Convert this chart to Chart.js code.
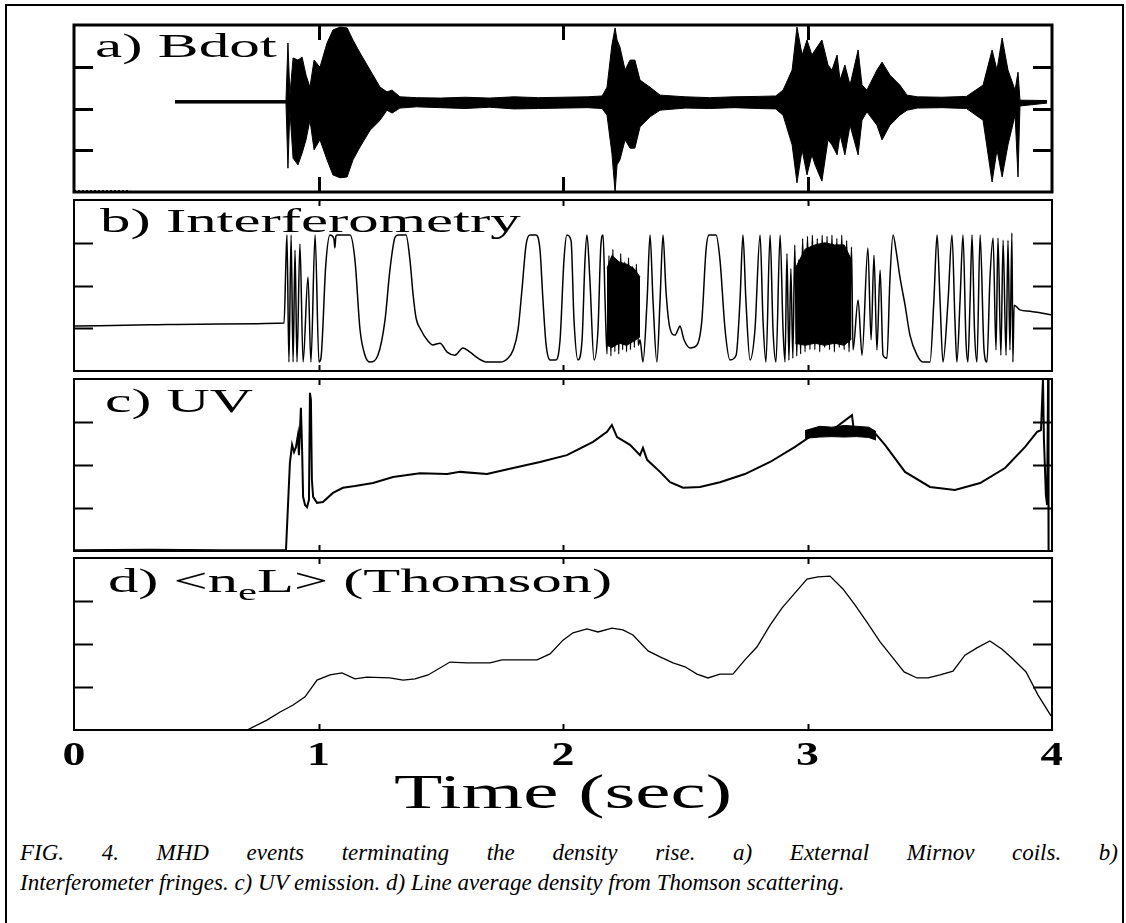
<!DOCTYPE html>
<html>
<head>
<meta charset="utf-8">
<script src="https://cdn.jsdelivr.net/npm/chart.js@4.4.0/dist/chart.umd.min.js"></script>
<style>
body { margin: 0; background: #fff; }
#fig { position: relative; width: 1126px; height: 923px; overflow: hidden; font-family: "Liberation Serif", "Times New Roman", serif; }
#outer { position: absolute; left: 5px; top: 4px; width: 1115px; height: 960px; border: 2px solid #000; }
canvas { position: absolute; }
.ttl { position: absolute; font-size: 34px; line-height: 1; white-space: nowrap; transform-origin: 0 0; color: #000; }
.cap { position: absolute; left: 20px; width: 1098px; font-style: italic; font-size: 23px; line-height: 30px; white-space: nowrap; }
#cap1 { top: 838px; text-align: justify; text-align-last: justify; white-space: normal; }
#cap2 { top: 868px; }
</style>
</head>
<body>
<div id="fig">
  <div id="outer"></div>
  <canvas id="pa" width="998" height="187" style="left:64px;top:15px"></canvas>
  <canvas id="pb" width="998" height="191" style="left:64px;top:190px"></canvas>
  <canvas id="pc" width="998" height="192" style="left:64px;top:369px"></canvas>
  <canvas id="pd" width="998" height="282" style="left:64px;top:548px"></canvas>
  <div class="ttl" style="left:95px;top:29px;transform:scaleX(1.8)">a) Bdot</div>
  <div class="ttl" style="left:100px;top:204px;transform:scaleX(1.79)">b) Interferometry</div>
  <div class="ttl" style="left:105px;top:384px;transform:scaleX(1.76)">c) UV</div>
  <div class="ttl" style="left:108px;top:564px;transform:scaleX(1.78)">d) &lt;n<span style="font-size:24px;position:relative;top:8px">e</span>L&gt; (Thomson)</div>
  <div class="cap" id="cap1">FIG. 4. MHD events terminating the density rise. a) External Mirnov coils. b)</div>
  <div class="cap" id="cap2">Interferometer fringes. c) UV emission. d) Line average density from Thomson scattering.</div>
</div>

<script>
// time axis (sec) and frame ticks
xTicks = [1, 2, 3];
xTickLabels = ['0', '1', '2', '3', '4'];
yTicks = [1, 2, 3];

// a) Bdot - envelope of the Mirnov signal (upper / lower)
bdotT = [0.413, 0.867, 0.875, 0.883, 0.896, 0.916, 0.933, 0.949, 0.965, 0.982,
         1.006, 1.035, 1.059, 1.088, 1.117, 1.141, 1.170, 1.211, 1.252, 1.280,
         1.301, 1.333, 1.40, 1.50, 1.60, 1.70, 1.80, 1.90, 2.00, 2.10,
         2.16, 2.180, 2.200, 2.213, 2.221, 2.233, 2.254, 2.274, 2.294, 2.315,
         2.356, 2.397, 2.50, 2.60, 2.70, 2.80, 2.87, 2.900, 2.937, 2.957,
         2.978, 2.998, 3.018, 3.031, 3.059, 3.084, 3.100, 3.121, 3.133, 3.153,
         3.174, 3.207, 3.223, 3.243, 3.284, 3.305, 3.337, 3.378, 3.407, 3.45,
         3.55, 3.65, 3.718, 3.755, 3.775, 3.796, 3.820, 3.849, 3.861, 3.869,
         3.980];
bdotHi = [2.19, 2.19, 3.57, 2.32, 3.21, 3.16, 3.23, 2.80, 2.51, 3.16,
          2.99, 3.57, 3.88, 3.95, 3.93, 3.64, 3.33, 2.92, 2.51, 2.40,
          2.44, 2.28, 2.26, 2.25, 2.27, 2.25, 2.28, 2.26, 2.27, 2.28,
          2.30, 2.51, 3.52, 3.93, 3.64, 3.47, 2.92, 3.16, 3.16, 2.68,
          2.51, 2.32, 2.28, 2.26, 2.28, 2.29, 2.30, 2.44, 2.92, 3.95,
          3.28, 3.64, 3.28, 3.40, 3.64, 3.04, 2.92, 3.28, 2.68, 3.04,
          2.56, 3.40, 2.56, 2.44, 2.92, 3.11, 2.80, 2.56, 2.32, 2.28,
          2.27, 2.29, 2.56, 3.40, 2.92, 3.69, 2.92, 2.44, 2.87, 2.20,
          2.19];
bdotLo = [2.13, 2.13, 0.57, 1.96, 0.81, 0.65, 0.93, 1.25, 1.72, 1.01,
          1.25, 0.77, 0.41, 0.34, 0.36, 0.77, 1.08, 1.48, 1.72, 1.96,
          1.89, 2.01, 2.04, 2.02, 2.00, 2.03, 1.99, 2.00, 2.01, 2.02,
          2.00, 1.84, 0.93, 0.00, 0.65, 0.77, 1.25, 1.05, 1.05, 1.56,
          1.80, 1.96, 2.01, 2.00, 2.02, 2.00, 1.99, 1.84, 1.13, 0.22,
          1.01, 0.41, 0.89, 0.65, 0.26, 1.25, 1.13, 0.89, 1.37, 0.89,
          1.60, 0.89, 1.72, 1.92, 1.60, 1.25, 1.60, 1.84, 1.96, 2.01,
          2.02, 2.00, 1.72, 0.24, 1.01, 0.36, 1.13, 1.84, 0.36, 2.06,
          2.13];
bdotPreT = [0.0, 0.23];
bdotPreV = [0.03, 0.03];

// b) Interferometer fringes
ifT = [0, 0.311, 0.597, 0.859, 0.867, 0.871, 0.879, 0.888, 0.896, 0.904,
       0.912, 0.924, 0.937, 0.957, 0.969, 0.986, 1.002, 1.010, 1.030, 1.047,
       1.063, 1.067, 1.071, 1.076, 1.129, 1.149, 1.170, 1.190, 1.211, 1.243,
       1.272, 1.292, 1.313, 1.325, 1.358, 1.374, 1.387, 1.399, 1.419, 1.444,
       1.468, 1.497, 1.526, 1.558, 1.591, 1.620, 1.652, 1.689, 1.742, 1.775,
       1.796, 1.816, 1.832, 1.849, 1.865, 1.890, 1.906, 1.918, 1.931, 1.947,
       1.971, 1.988, 2.004, 2.016, 2.033, 2.045, 2.061, 2.078, 2.090, 2.098,
       2.110, 2.127, 2.143, 2.155, 2.164, 2.172, 2.180, 2.188, 2.196, 2.204,
       2.212, 2.220, 2.228, 2.236, 2.244, 2.252, 2.260, 2.268, 2.276, 2.284,
       2.292, 2.300, 2.308, 2.315, 2.327, 2.344, 2.356, 2.368, 2.384, 2.397,
       2.409, 2.421, 2.437, 2.458, 2.470, 2.478, 2.495, 2.519, 2.548, 2.568,
       2.585, 2.597, 2.626, 2.642, 2.663, 2.683, 2.708, 2.724, 2.736, 2.748,
       2.765, 2.785, 2.806, 2.818, 2.830, 2.847, 2.859, 2.871, 2.888, 2.900,
       2.908, 2.916, 2.924, 2.932, 2.940, 2.948, 2.956, 2.964, 2.972, 2.980,
       2.990, 3.000, 3.010, 3.020, 3.030, 3.040, 3.050, 3.060, 3.070, 3.080,
       3.090, 3.100, 3.110, 3.120, 3.130, 3.140, 3.150, 3.160, 3.170, 3.180,
       3.186, 3.207, 3.223, 3.247, 3.260, 3.272, 3.284, 3.297, 3.309, 3.325,
       3.337, 3.350, 3.362, 3.378, 3.399, 3.419, 3.448, 3.472, 3.501, 3.517,
       3.530, 3.542, 3.554, 3.575, 3.591, 3.603, 3.611, 3.624, 3.636, 3.648,
       3.656, 3.665, 3.673, 3.683, 3.693, 3.706, 3.722, 3.734, 3.746, 3.759,
       3.771, 3.779, 3.791, 3.800, 3.812, 3.820, 3.828, 3.836, 3.840, 3.845,
       3.869, 3.910, 3.951, 4.000];
ifV = [1.05, 1.08, 1.10, 1.12, 2.60, 3.18, 0.21, 3.18, 0.21, 2.83,
       0.21, 2.97, 0.21, 2.20, 0.21, 3.18, 0.21, 0.30, 2.50, 3.18,
       3.10, 2.88, 3.15, 3.18, 3.18, 2.60, 0.96, 0.37, 0.21, 0.37,
       1.19, 2.36, 3.13, 3.18, 3.18, 2.60, 1.78, 1.24, 0.96, 0.73,
       0.61, 0.65, 0.44, 0.37, 0.54, 0.44, 0.30, 0.21, 0.21, 0.30,
       0.49, 0.96, 1.89, 2.95, 3.18, 3.18, 2.83, 1.66, 0.61, 0.26,
       0.26, 0.73, 2.60, 3.18, 3.05, 1.19, 0.26, 0.73, 2.60, 3.18,
       2.13, 0.26, 0.96, 2.95, 3.18, 1.66, 0.40, 2.70, 0.35, 2.85,
       0.45, 2.60, 0.40, 2.75, 0.50, 2.55, 0.45, 2.65, 0.50, 2.45,
       0.55, 2.50, 0.60, 0.73, 0.21, 1.66, 3.18, 1.66, 0.21, 1.66,
       3.18, 1.89, 1.01, 0.84, 0.96, 1.05, 0.73, 0.54, 0.61, 1.19,
       2.83, 3.18, 3.18, 2.60, 0.96, 0.26, 0.37, 1.66, 3.18, 1.66,
       0.26, 0.96, 3.18, 1.19, 0.21, 3.18, 0.96, 0.21, 3.18, 0.96,
       0.21, 2.75, 0.25, 2.40, 0.30, 2.95, 0.35, 2.60, 0.40, 3.10,
       0.45, 3.15, 0.50, 3.18, 0.50, 3.10, 0.45, 3.18, 0.55, 3.15,
       0.50, 3.18, 0.45, 3.10, 0.55, 3.18, 0.50, 3.05, 0.45, 2.90,
       0.49, 1.66, 0.37, 2.88, 0.73, 2.71, 0.49, 2.36, 0.37, 0.30,
       2.13, 3.18, 2.83, 2.20, 1.54, 0.84, 0.37, 0.21, 0.21, 1.66,
       3.18, 1.66, 0.21, 1.66, 3.18, 1.19, 0.21, 1.66, 3.18, 0.73,
       0.21, 1.66, 3.18, 0.96, 0.21, 3.18, 0.49, 0.21, 2.13, 3.11,
       0.49, 3.11, 0.37, 3.06, 0.37, 3.06, 0.49, 3.23, 0.21, 1.54,
       1.43, 1.40, 1.36, 1.31];
// dense fringe bursts, drawn as solid bands
ifBand1T = [2.180, 2.200, 2.230, 2.260, 2.290, 2.315];
ifBand1Hi = [2.40, 2.70, 2.55, 2.50, 2.40, 2.20];
ifBand1Lo = [0.60, 0.55, 0.65, 0.60, 0.70, 0.80];
ifBand2T = [2.950, 2.990, 3.030, 3.070, 3.110, 3.150, 3.180];
ifBand2Hi = [2.40, 2.85, 2.95, 3.00, 2.95, 2.95, 2.60];
ifBand2Lo = [0.65, 0.60, 0.65, 0.60, 0.65, 0.60, 0.75];

// c) UV emission
uvT = [0, 0.311, 0.600, 0.867, 0.883, 0.892, 0.900, 0.908, 0.916, 0.920,
       0.928, 0.933, 0.937, 0.945, 0.953, 0.961, 0.965, 0.969, 0.973, 0.978,
       0.994, 1.018, 1.059, 1.100, 1.149, 1.223, 1.305, 1.415, 1.526, 1.579,
       1.689, 1.796, 1.906, 2.016, 2.123, 2.180, 2.200, 2.221, 2.274, 2.315,
       2.327, 2.344, 2.397, 2.438, 2.491, 2.560, 2.642, 2.744, 2.847, 2.949,
       3.031, 3.092, 3.182, 3.190, 3.276, 3.317, 3.399, 3.501, 3.603, 3.706,
       3.808, 3.890, 3.939, 3.955, 3.963, 3.967, 3.975, 3.980, 3.984, 3.986];
uvV = [0.02, 0.03, 0.02, 0.02, 2.05, 2.47, 2.30, 2.42, 2.70, 2.23,
       3.33, 2.35, 1.26, 1.07, 1.02, 1.19, 3.68, 3.51, 1.65, 1.26,
       1.12, 1.14, 1.35, 1.47, 1.51, 1.58, 1.72, 1.81, 1.79, 1.84,
       1.79, 1.93, 2.07, 2.23, 2.54, 2.77, 2.93, 2.65, 2.47, 2.23,
       2.40, 2.12, 1.84, 1.60, 1.47, 1.49, 1.60, 1.79, 2.07, 2.42,
       2.74, 2.77, 3.16, 2.77, 2.74, 2.47, 1.84, 1.49, 1.42, 1.58,
       1.93, 2.42, 2.77, 2.81, 4.00, 2.60, 1.30, 1.07, 4.00, 0.00];
uvBandT = [2.990, 3.050, 3.100, 3.150, 3.200, 3.250, 3.280];
uvBandHi = [2.80, 2.90, 2.88, 2.92, 2.90, 2.88, 2.78];
uvBandLo = [2.62, 2.65, 2.66, 2.65, 2.66, 2.64, 2.58];

// d) line average density (Thomson)
thT = [0.650, 0.708, 0.789, 0.843, 0.896, 0.945, 0.994, 1.047, 1.096, 1.149,
       1.198, 1.292, 1.346, 1.395, 1.448, 1.538, 1.607, 1.701, 1.751, 1.894,
       1.947, 2.000, 2.041, 2.098, 2.143, 2.200, 2.245, 2.286, 2.348, 2.397,
       2.450, 2.499, 2.548, 2.593, 2.642, 2.695, 2.744, 2.793, 2.847, 2.896,
       2.949, 2.998, 3.043, 3.092, 3.145, 3.194, 3.243, 3.297, 3.346, 3.395,
       3.448, 3.493, 3.542, 3.595, 3.644, 3.693, 3.746, 3.796, 3.840, 3.894,
       3.943, 3.996];
thV = [0.00, 0.00, 0.23, 0.42, 0.58, 0.77, 1.16, 1.28, 1.33, 1.19,
       1.23, 1.21, 1.16, 1.19, 1.28, 1.58, 1.56, 1.56, 1.63, 1.63,
       1.77, 2.09, 2.26, 2.35, 2.28, 2.37, 2.33, 2.21, 1.84, 1.70,
       1.56, 1.47, 1.30, 1.21, 1.30, 1.30, 1.63, 1.93, 2.44, 2.84,
       3.19, 3.51, 3.56, 3.58, 3.28, 2.91, 2.51, 2.05, 1.70, 1.35,
       1.21, 1.21, 1.28, 1.37, 1.74, 1.91, 2.07, 1.88, 1.65, 1.35,
       0.81, 0.33];

function pts(ts, vs) {
    return ts.map((t, i) => ({ x: t, y: vs[i] }));
}

function lineSet(ts, vs, width, extra) {
    return Object.assign({
        data: pts(ts, vs),
        borderColor: '#000',
        backgroundColor: '#000',
        borderWidth: width,
        pointRadius: 0,
        tension: 0,
        fill: false
    }, extra || {});
}

// box, inward y ticks on both sides, x ticks at 1,2,3 on top and bottom
const framePlugin = {
    id: 'frame',
    afterDatasetsDraw(chart, args, opts) {
        const { ctx, chartArea: a, scales } = chart;
        ctx.save();
        ctx.strokeStyle = '#000';
        ctx.lineWidth = opts.lw;
        ctx.strokeRect(a.left, a.top, a.right - a.left, a.bottom - a.top);
        ctx.beginPath();
        yTicks.forEach(v => {
            const py = Math.round(scales.y.getPixelForValue(v)) + 0.5;
            ctx.moveTo(a.left, py); ctx.lineTo(a.left + opts.yLen, py);
            ctx.moveTo(a.right, py); ctx.lineTo(a.right - opts.yLen, py);
        });
        xTicks.forEach(v => {
            const px = Math.round(scales.x.getPixelForValue(v)) + 0.5;
            ctx.moveTo(px, a.top); ctx.lineTo(px, a.top + opts.xLen);
            ctx.moveTo(px, a.bottom); ctx.lineTo(px, a.bottom - opts.xLen);
        });
        ctx.stroke();
        ctx.restore();
    }
};

// tick labels + axis title under the last panel (stretched serif like the scan)
const timeAxisPlugin = {
    id: 'timeAxis',
    afterDraw(chart, args, opts) {
        if (!opts.show) return;
        const { ctx, chartArea: a, scales } = chart;
        ctx.save();
        ctx.fillStyle = '#000';
        ctx.textAlign = 'center';
        ctx.textBaseline = 'alphabetic';
        ctx.font = 'bold 34px "Liberation Serif", serif';
        xTickLabels.forEach((lab, i) => {
            const px = scales.x.getPixelForValue(i);
            ctx.save();
            ctx.translate(px, a.bottom + 35);
            ctx.scale(1.35, 1);
            ctx.fillText(lab, 0, 0);
            ctx.restore();
        });
        ctx.font = '48px "Liberation Serif", serif';
        ctx.translate((a.left + a.right) / 2, a.bottom + 78);
        ctx.scale(1.65, 1);
        ctx.fillText('Time (sec)', 0, 0);
        ctx.restore();
    }
};

function makePanel(id, datasets, frameOpts, bottomPad, showAxis) {
    return new Chart(document.getElementById(id), {
        type: 'line',
        data: { datasets: datasets },
        options: {
            responsive: false,
            animation: false,
            devicePixelRatio: 1,
            layout: { padding: { left: 10, right: 10, top: 10, bottom: bottomPad } },
            scales: {
                x: { type: 'linear', min: 0, max: 4, display: false },
                y: { type: 'linear', min: 0, max: 4, display: false }
            },
            plugins: {
                legend: { display: false },
                tooltip: { enabled: false },
                frame: frameOpts,
                timeAxis: { show: showAxis }
            }
        },
        plugins: [framePlugin, timeAxisPlugin]
    });
}

makePanel('pa', [
    lineSet(bdotT, bdotHi, 1, { fill: '+1' }),
    lineSet(bdotT, bdotLo, 1),
    lineSet(bdotPreT, bdotPreV, 1.5, { borderDash: [2, 2] })
], { lw: 3, yLen: 19, xLen: 15 }, 10, false);

makePanel('pb', [
    lineSet(ifBand1T, ifBand1Hi, 1, { fill: '+1' }),
    lineSet(ifBand1T, ifBand1Lo, 1),
    lineSet(ifBand2T, ifBand2Hi, 1, { fill: '+1' }),
    lineSet(ifBand2T, ifBand2Lo, 1),
    lineSet(ifT, ifV, 1.5, { cubicInterpolationMode: 'monotone' })
], { lw: 2, yLen: 19, xLen: 6 }, 10, false);

makePanel('pc', [
    lineSet(uvBandT, uvBandHi, 1, { fill: '+1' }),
    lineSet(uvBandT, uvBandLo, 1),
    lineSet(uvT, uvV, 2)
], { lw: 2, yLen: 19, xLen: 6 }, 10, false);

makePanel('pd', [
    lineSet(thT, thV, 1.3)
], { lw: 2, yLen: 19, xLen: 6 }, 100, true);
</script>
</body>
</html>
